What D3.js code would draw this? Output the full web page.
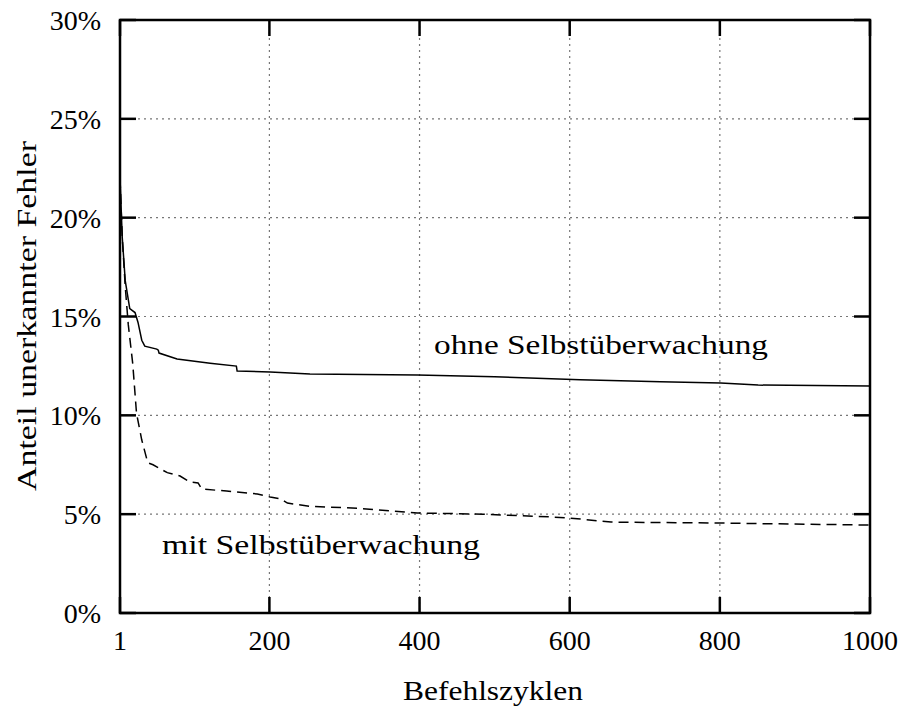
<!DOCTYPE html>
<html><head><meta charset="utf-8">
<script src="https://cdn.jsdelivr.net/npm/d3@7"></script>
<style>body{margin:0;background:#fff}svg{display:block}</style>
</head><body>
<svg id="c" width="901" height="706"></svg>
<script>
const ohneX = [1, 4, 8, 14, 21, 25, 30, 34, 50, 52, 53, 77, 121, 156, 157, 201, 254, 397, 500, 614, 721, 801, 851, 1000];
const ohneY = [22.0, 19.0, 16.8, 15.4, 15.2, 14.7, 13.8, 13.5, 13.35, 13.3, 13.15, 12.85, 12.64, 12.49, 12.24, 12.19, 12.09, 12.04, 11.95, 11.8, 11.7, 11.63, 11.53, 11.48];
const mitX = [1, 4, 8, 12, 18, 23, 30, 38, 45, 64, 81, 94, 105, 110, 143, 184, 201, 215, 224, 254, 317, 397, 485, 575, 601, 655, 801, 899, 1000];
const mitY = [22.0, 19.0, 16.5, 14.6, 12.6, 10.1, 8.75, 7.6, 7.5, 7.1, 6.93, 6.63, 6.58, 6.27, 6.17, 6.02, 5.87, 5.77, 5.56, 5.4, 5.3, 5.06, 5.0, 4.86, 4.8, 4.6, 4.55, 4.5, 4.45];
const xTicks = [1, 200, 400, 600, 800, 1000];
const yTicks = [0, 5, 10, 15, 20, 25, 30];
const seriesLabels = ["ohne Selbstüberwachung", "mit Selbstüberwachung"];
const xTitle = "Befehlszyklen";
const yTitle = "Anteil unerkannter Fehler";

const FONT = "'Liberation Serif', 'DejaVu Serif', 'Times New Roman', Times, 'Noto Serif', serif";
const svg = d3.select("#c");
const L = 120, R = 870, T = 20, B = 613;
const x = d3.scaleLinear().domain([1, 1000]).range([L, R]);
const y = d3.scaleLinear().domain([0, 30]).range([B, T]);

const g = svg.append("g");
g.selectAll(".gx").data(xTicks.filter(d => d !== 1 && d !== 1000)).join("line")
  .attr("x1", d => x(d)).attr("x2", d => x(d)).attr("y1", T).attr("y2", B)
  .attr("stroke", "#777").attr("stroke-width", 1.2).attr("stroke-dasharray", "2,4");
g.selectAll(".gy").data(yTicks.filter(d => d !== 0 && d !== 30)).join("line")
  .attr("x1", L).attr("x2", R).attr("y1", d => y(d)).attr("y2", d => y(d))
  .attr("stroke", "#777").attr("stroke-width", 1.2).attr("stroke-dasharray", "2,4");

const tk = 16;
g.selectAll(".tyl").data(yTicks).join("line")
  .attr("x1", L).attr("x2", L + tk).attr("y1", d => y(d)).attr("y2", d => y(d))
  .attr("stroke", "#000").attr("stroke-width", 2.5);
g.selectAll(".tyr").data(yTicks).join("line")
  .attr("x1", R).attr("x2", R - tk).attr("y1", d => y(d)).attr("y2", d => y(d))
  .attr("stroke", "#000").attr("stroke-width", 2.5);
g.selectAll(".txb").data(xTicks).join("line")
  .attr("x1", d => x(d)).attr("x2", d => x(d)).attr("y1", B).attr("y2", B - tk)
  .attr("stroke", "#000").attr("stroke-width", 2.5);
g.selectAll(".txt").data(xTicks).join("line")
  .attr("x1", d => x(d)).attr("x2", d => x(d)).attr("y1", T).attr("y2", T + tk)
  .attr("stroke", "#000").attr("stroke-width", 2.5);

const line = d3.line().x(d => x(d[0])).y(d => y(d[1]));
svg.append("path").datum(ohneX.map((v, i) => [v, ohneY[i]]))
  .attr("d", line).attr("fill", "none").attr("stroke", "#000").attr("stroke-width", 1.5);
svg.append("path").datum(mitX.map((v, i) => [v, mitY[i]]))
  .attr("d", line).attr("fill", "none").attr("stroke", "#000").attr("stroke-width", 1.5)
  .attr("stroke-dasharray", "10,6");

svg.append("rect").attr("x", L).attr("y", T).attr("width", R - L).attr("height", B - T)
  .attr("fill", "none").attr("stroke", "#000").attr("stroke-width", 2.5);

function txt(sel) { return sel.attr("font-family", FONT).style("font-family", FONT).attr("fill", "#000"); }

txt(svg.selectAll(".yl").data(yTicks).join("text"))
  .attr("x", 101).attr("y", d => y(d) + 10).attr("text-anchor", "end")
  .attr("font-size", 28).text(d => d + "%");
txt(svg.selectAll(".xl").data(xTicks).join("text"))
  .attr("x", d => d === 1000 ? 870 : x(d)).attr("y", 650).attr("text-anchor", "middle")
  .attr("font-size", 28).text(d => d);

txt(svg.append("text")).attr("x", 434).attr("y", 354).attr("font-size", 28)
  .attr("textLength", 334).attr("lengthAdjust", "spacingAndGlyphs").text(seriesLabels[0]);
txt(svg.append("text")).attr("x", 162).attr("y", 554).attr("font-size", 28)
  .attr("textLength", 318).attr("lengthAdjust", "spacingAndGlyphs").text(seriesLabels[1]);

txt(svg.append("text")).attr("x", 493).attr("y", 700).attr("text-anchor", "middle").attr("font-size", 28)
  .attr("textLength", 180).attr("lengthAdjust", "spacingAndGlyphs").text(xTitle);
txt(svg.append("text")).attr("transform", "translate(36,316) rotate(-90)").attr("text-anchor", "middle")
  .attr("font-size", 28).attr("textLength", 350).attr("lengthAdjust", "spacingAndGlyphs").text(yTitle);
</script>
</body></html>
